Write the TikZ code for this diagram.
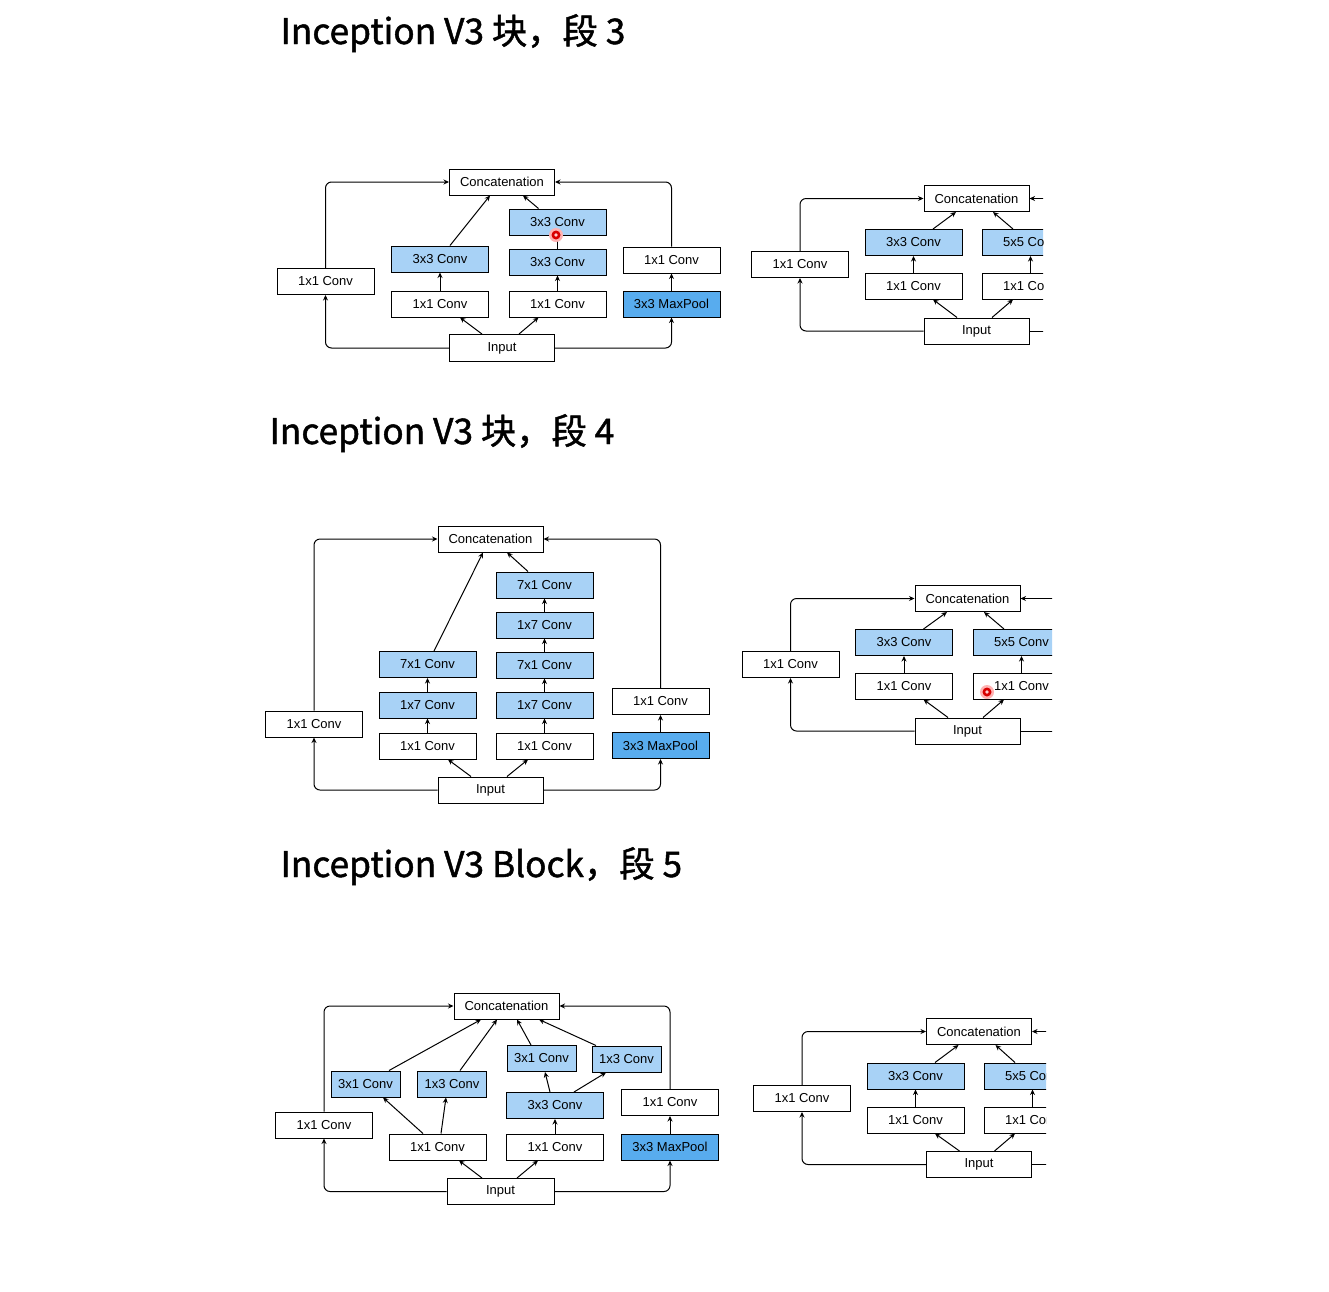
\documentclass[tikz,border=0pt]{standalone}
\usepackage{fontspec}
\newfontfamily\cjk[FakeBold=1.3]{Noto Sans CJK SC}
\newfontfamily\boxfont{Liberation Sans}
\usetikzlibrary{arrows.meta}
\definecolor{lb}{RGB}{168,210,246}
\definecolor{mb}{RGB}{88,172,238}
\begin{document}
\begin{tikzpicture}[x=1pt,y=-1pt,line width=1pt,
 bx/.style={draw=black, line width=1pt, minimum width=97pt, minimum height=26pt, inner sep=0pt, font=\boxfont\fontsize{13}{15}\selectfont, anchor=center},
 wide/.style={bx, minimum width=105pt},
 nar/.style={bx, minimum width=69pt},
 lt/.style={fill=lb},
 dk/.style={fill=mb},
 arr/.style={line width=1pt, -{Stealth[length=5.5pt,width=5pt]}},
 lp/.style={arr, rounded corners=6pt},
 title/.style={font=\cjk\fontsize{35.3}{42}\selectfont, anchor=base west, inner sep=0pt},
 dot/.style={fill=red!85!black}]
\useasboundingbox (0,0) rectangle (1329,1291);

% titles
\node[title] (ti1) at (280,44) {Inception V3 块，段 3};
\node[title] (ti2) at (269,444) {Inception V3 块，段 4};
\node[title] (ti3) at (280,877) {Inception V3 Block，段 5};

% ---------- D1 ----------
\node[wide] (c1) at (502,182) {Concatenation};
\node[bx] (a1) at (325.5,281.5) {1x1 Conv};
\node[bx] (p1) at (440,304) {1x1 Conv};
\node[bx,lt] (q1) at (440,259) {3x3 Conv};
\node[bx] (r1) at (557.5,304) {1x1 Conv};
\node[bx,lt] (s1) at (557.5,262) {3x3 Conv};
\node[bx,lt] (t1) at (557.5,222) {3x3 Conv};
\node[bx,dk] (m1) at (671.5,304) {3x3 MaxPool};
\node[bx] (n1) at (671.5,260) {1x1 Conv};
\node[wide, minimum height=27pt] (i1) at (502,348) {Input};
\draw[lp] (i1.west) -| (a1.south);
\draw[lp] (a1.north) |- (c1.west);
\draw[lp] (i1.east) -| (m1.south);
\draw[arr] (m1.north) -- (n1.south);
\draw[lp] (n1.north) |- (c1.east);
\draw[arr] ([xshift=-20pt]i1.north) -- ([xshift=20pt]p1.south);
\draw[arr] ([xshift=17pt]i1.north) -- ([xshift=-19pt]r1.south);
\draw[arr] (p1.north) -- (q1.south);
\draw[arr] ([xshift=10pt]q1.north) -- ([xshift=-12pt]c1.south);
\draw[arr] (r1.north) -- (s1.south);
\draw[arr] (s1.north) -- (t1.south);
\draw[arr] ([xshift=-19pt]t1.north) -- ([xshift=21pt]c1.south);
\fill[red!30] (556,235) circle (7);
\fill[dot] (556,235) circle (4.5);
\fill[red!20] (556,235) circle (1.8);

% ---------- D2 ----------
\begin{scope}
\clip (740,150) rectangle (1043,400);
\node[wide] (c2) at (976.5,198.5) {Concatenation};
\node[bx] (a2) at (800,264.5) {1x1 Conv};
\node[bx,lt] (q2) at (913.5,242.5) {3x3 Conv};
\node[bx] (p2) at (913.5,286) {1x1 Conv};
\node[bx,lt] (t2) at (1030.5,242.5) {5x5 Conv};
\node[bx] (r2) at (1030.5,286) {1x1 Conv};
\node[wide] (i2) at (976.5,331) {Input};
\coordinate (o2) at (1100,331);
\coordinate (u2) at (1100,198.5);
\draw[lp] (i2.west) -| (a2.south);
\draw[lp] (a2.north) |- (c2.west);
\draw (i2.east) -- (o2);
\draw[arr] (u2) -- (c2.east);
\draw[arr] ([xshift=-19.5pt]i2.north) -- ([xshift=19.5pt]p2.south);
\draw[arr] ([xshift=15.5pt]i2.north) -- ([xshift=-17.5pt]r2.south);
\draw[arr] (p2.north) -- (q2.south);
\draw[arr] (r2.north) -- (t2.south);
\draw[arr] ([xshift=19.5pt]q2.north) -- ([xshift=-20.5pt]c2.south);
\draw[arr] ([xshift=-17.5pt]t2.north) -- ([xshift=16.5pt]c2.south);
\end{scope}

% ---------- D3 ----------
\node[wide] (c3) at (490.5,539) {Concatenation};
\node[bx] (a3) at (314,724) {1x1 Conv};
\node[bx] (p3) at (427.5,746) {1x1 Conv};
\node[bx,lt] (p3b) at (427.5,705) {1x7 Conv};
\node[bx,lt] (p3c) at (427.5,664.5) {7x1 Conv};
\node[bx] (r3) at (544.5,746) {1x1 Conv};
\node[bx,lt] (r3b) at (544.5,705) {1x7 Conv};
\node[bx,lt] (r3c) at (544.5,665) {7x1 Conv};
\node[bx,lt] (r3d) at (544.5,625) {1x7 Conv};
\node[bx,lt] (r3e) at (544.5,585) {7x1 Conv};
\node[bx,dk] (m3) at (660.5,745.5) {3x3 MaxPool};
\node[bx] (n3) at (660.5,701.5) {1x1 Conv};
\node[wide] (i3) at (490.5,790) {Input};
\draw[lp] (i3.west) -| (a3.south);
\draw[lp] (a3.north) |- (c3.west);
\draw[lp] (i3.east) -| (m3.south);
\draw[arr] (m3.north) -- (n3.south);
\draw[lp] (n3.north) |- (c3.east);
\draw[arr] ([xshift=-19.5pt]i3.north) -- ([xshift=20.5pt]p3.south);
\draw[arr] ([xshift=16.5pt]i3.north) -- ([xshift=-16.5pt]r3.south);
\draw[arr] (p3.north) -- (p3b.south);
\draw[arr] (p3b.north) -- (p3c.south);
\draw[arr] ([xshift=6.5pt]p3c.north) -- ([xshift=-7.5pt]c3.south);
\draw[arr] (r3.north) -- (r3b.south);
\draw[arr] (r3b.north) -- (r3c.south);
\draw[arr] (r3c.north) -- (r3d.south);
\draw[arr] (r3d.north) -- (r3e.south);
\draw[arr] ([xshift=-16.5pt]r3e.north) -- ([xshift=16.5pt]c3.south);

% ---------- D4 ----------
\begin{scope}
\clip (730,560) rectangle (1052,820);
\node[wide] (c4) at (967.5,598.5) {Concatenation};
\node[bx] (a4) at (790.5,664.5) {1x1 Conv};
\node[bx,lt] (q4) at (904,642.5) {3x3 Conv};
\node[bx] (p4) at (904,686) {1x1 Conv};
\node[bx,lt] (t4) at (1021.5,642.5) {5x5 Conv};
\node[bx] (r4) at (1021.5,686) {1x1 Conv};
\node[wide] (i4) at (967.5,731) {Input};
\coordinate (o4) at (1100,731);
\coordinate (u4) at (1100,598.5);
\draw[lp] (i4.west) -| (a4.south);
\draw[lp] (a4.north) |- (c4.west);
\draw (i4.east) -- (o4);
\draw[arr] (u4) -- (c4.east);
\draw[arr] ([xshift=-19.5pt]i4.north) -- ([xshift=19.5pt]p4.south);
\draw[arr] ([xshift=15.5pt]i4.north) -- ([xshift=-17.5pt]r4.south);
\draw[arr] (p4.north) -- (q4.south);
\draw[arr] (r4.north) -- (t4.south);
\draw[arr] ([xshift=19.5pt]q4.north) -- ([xshift=-20.5pt]c4.south);
\draw[arr] ([xshift=-17.5pt]t4.north) -- ([xshift=16.5pt]c4.south);
\end{scope}
\fill[red!30] (987,692) circle (7);
\fill[dot] (987,692) circle (4.5);
\fill[red!20] (987,692) circle (1.8);

% ---------- D5 ----------
\node[wide] (c5) at (506.5,1006) {Concatenation};
\node[bx] (a5) at (324,1125) {1x1 Conv};
\node[bx] (p5) at (437.5,1147) {1x1 Conv};
\node[bx] (r5) at (555,1147) {1x1 Conv};
\node[bx,dk] (m5) at (670,1147) {3x3 MaxPool};
\node[bx] (n5) at (670,1102.5) {1x1 Conv};
\node[bx,lt] (s5) at (555,1105.5) {3x3 Conv};
\node[nar,lt] (u5) at (541.5,1058.5) {3x1 Conv};
\node[nar,lt] (v5) at (626.5,1059) {1x3 Conv};
\node[nar,lt] (w5) at (365.5,1084) {3x1 Conv};
\node[nar,lt] (z5) at (452,1084) {1x3 Conv};
\node[wide, minimum width=107pt] (i5) at (500.5,1191.5) {Input};
\draw[lp] (i5.west) -| (a5.south);
\draw[lp] (a5.north) |- (c5.west);
\draw[lp] (i5.east) -| (m5.south);
\draw[arr] (m5.north) -- (n5.south);
\draw[lp] (n5.north) |- (c5.east);
\draw[arr] ([xshift=-18.5pt]i5.north) -- ([xshift=21.5pt]p5.south);
\draw[arr] ([xshift=16.5pt]i5.north) -- ([xshift=-17pt]r5.south);
\draw[arr] ([xshift=-14.5pt]p5.north) -- ([xshift=17.5pt]w5.south);
\draw[arr] ([xshift=3.5pt]p5.north) -- ([xshift=-6pt]z5.south);
\draw[arr] ([xshift=23.5pt]w5.north) -- ([xshift=-25.5pt]c5.south);
\draw[arr] ([xshift=8pt]z5.north) -- ([xshift=-9.5pt]c5.south);
\draw[arr] (r5.north) -- (s5.south);
\draw[arr] ([xshift=-5pt]s5.north) -- ([xshift=3.5pt]u5.south);
\draw[arr] ([xshift=19pt]s5.north) -- ([xshift=-20.5pt]v5.south);
\draw[arr] ([xshift=-10.5pt]u5.north) -- ([xshift=10.5pt]c5.south);
\draw[arr] ([xshift=-30.5pt]v5.north) -- ([xshift=32.5pt]c5.south);

% ---------- D6 ----------
\begin{scope}
\clip (740,1000) rectangle (1046,1250);
\node[wide] (c6) at (979,1031.5) {Concatenation};
\node[bx] (a6) at (802,1098.5) {1x1 Conv};
\node[bx,lt] (q6) at (915.5,1076) {3x3 Conv};
\node[bx] (p6) at (915.5,1120) {1x1 Conv};
\node[bx,lt] (t6) at (1032.5,1076) {5x5 Conv};
\node[bx] (r6) at (1032.5,1120) {1x1 Conv};
\node[wide] (i6) at (979,1164.5) {Input};
\coordinate (o6) at (1100,1164.5);
\coordinate (u6) at (1100,1031.5);
\draw[lp] (i6.west) -| (a6.south);
\draw[lp] (a6.north) |- (c6.west);
\draw (i6.east) -- (o6);
\draw[arr] (u6) -- (c6.east);
\draw[arr] ([xshift=-19.5pt]i6.north) -- ([xshift=19.5pt]p6.south);
\draw[arr] ([xshift=15.5pt]i6.north) -- ([xshift=-17.5pt]r6.south);
\draw[arr] (p6.north) -- (q6.south);
\draw[arr] (r6.north) -- (t6.south);
\draw[arr] ([xshift=19.5pt]q6.north) -- ([xshift=-20.5pt]c6.south);
\draw[arr] ([xshift=-17.5pt]t6.north) -- ([xshift=16.5pt]c6.south);
\end{scope}
\end{tikzpicture}
\end{document}
